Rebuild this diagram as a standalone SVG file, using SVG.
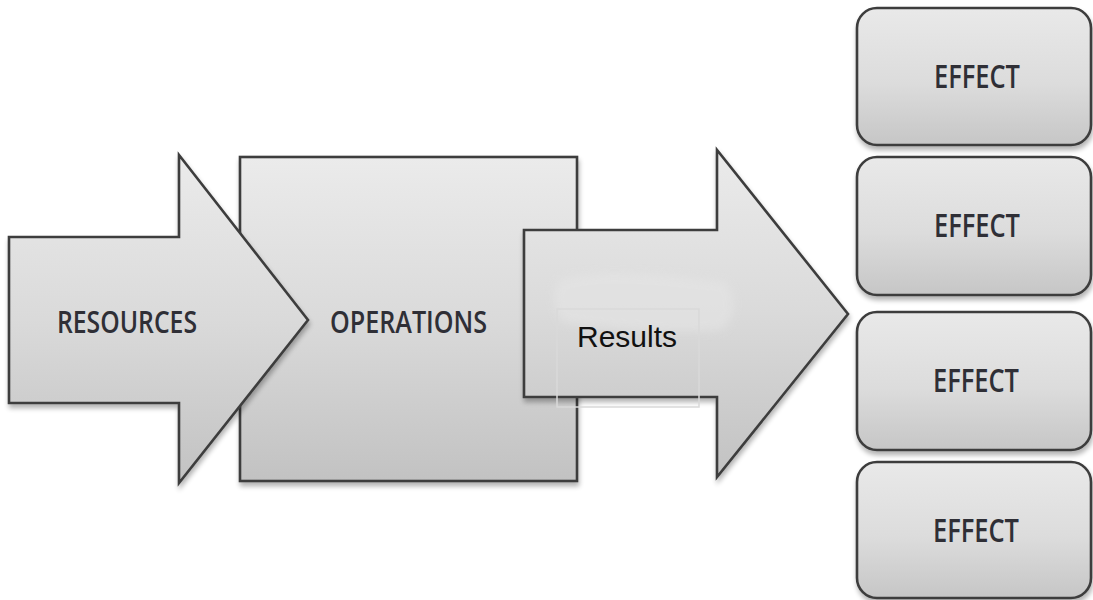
<svg xmlns="http://www.w3.org/2000/svg" width="1093" height="600" viewBox="0 0 1093 600">
<defs>
<linearGradient id="g" x1="0" y1="0" x2="0" y2="1">
<stop offset="0" stop-color="#ebebeb"/>
<stop offset="0.5" stop-color="#dadada"/>
<stop offset="1" stop-color="#c2c2c2"/>
</linearGradient>
<linearGradient id="ge" x1="0" y1="0" x2="0" y2="1">
<stop offset="0" stop-color="#e9e9e9"/>
<stop offset="0.55" stop-color="#dcdcdc"/>
<stop offset="1" stop-color="#c6c6c6"/>
</linearGradient>
<filter id="sh" x="-10%" y="-10%" width="120%" height="125%">
<feGaussianBlur in="SourceAlpha" stdDeviation="2.5"/>
<feOffset dx="1" dy="4" result="b"/>
<feComponentTransfer><feFuncA type="linear" slope="0.3"/></feComponentTransfer>
<feMerge><feMergeNode/><feMergeNode in="SourceGraphic"/></feMerge>
</filter>
<filter id="blur" x="-20%" y="-50%" width="140%" height="200%">
<feGaussianBlur stdDeviation="4"/>
</filter>
</defs>
<style>
.shape{fill:url(#g);stroke:#3e3e3e;stroke-width:2.6;stroke-linejoin:miter;filter:url(#sh)}
.eff{fill:url(#ge);stroke:#3e3e3e;stroke-width:2.6;filter:url(#sh)}
.lbl{font-family:"Open Sans","Lato",sans-serif;font-size:31px;font-weight:600;fill:#2f2f36}
.efft{font-family:"Open Sans","Lato",sans-serif;font-size:33px;font-weight:600;fill:#2f2f36;text-anchor:middle}
.res{font-family:"Liberation Sans",Arial,sans-serif;font-size:30px;fill:#111}
</style>
<g id="operations">
<rect class="shape" x="240" y="157" width="337" height="324"/>
<text class="lbl" x="330" y="333" textLength="157" lengthAdjust="spacingAndGlyphs">OPERATIONS</text>
</g>
<g id="resources">
<path class="shape" d="M9,237 H179 V155 L308,320 L179,483 V403 H9 Z"/>
<text class="lbl" x="57" y="333" textLength="140" lengthAdjust="spacingAndGlyphs">RESOURCES</text>
</g>
<g id="results">
<path class="shape" d="M524,230 H717 V150 L848,314 L717,477 V397 H524 Z"/>
<path d="M560,280 C600,268 660,274 725,282 C738,295 735,320 722,330 C680,334 610,330 562,322 C552,305 552,290 560,280 Z" fill="#e6e6e6" opacity="0.55" filter="url(#blur)"/>
<rect x="557" y="309" width="142" height="98" fill="none" stroke="#d9d9d9" stroke-width="1.5"/>
<text class="res" x="577" y="347">Results</text>
</g>
<g id="effect1">
<rect class="eff" x="857" y="8" width="234" height="137" rx="20"/>
<text class="efft" x="977" y="88" textLength="86" lengthAdjust="spacingAndGlyphs">EFFECT</text>
</g>
<g id="effect2">
<rect class="eff" x="857" y="157" width="234" height="138" rx="20"/>
<text class="efft" x="977" y="237" textLength="86" lengthAdjust="spacingAndGlyphs">EFFECT</text>
</g>
<g id="effect3">
<rect class="eff" x="857" y="312" width="234" height="138" rx="20"/>
<text class="efft" x="976" y="392" textLength="86" lengthAdjust="spacingAndGlyphs">EFFECT</text>
</g>
<g id="effect4">
<rect class="eff" x="857" y="462" width="234" height="136" rx="20"/>
<text class="efft" x="976" y="542" textLength="86" lengthAdjust="spacingAndGlyphs">EFFECT</text>
</g>
<g id="connectors"/>
</svg>
